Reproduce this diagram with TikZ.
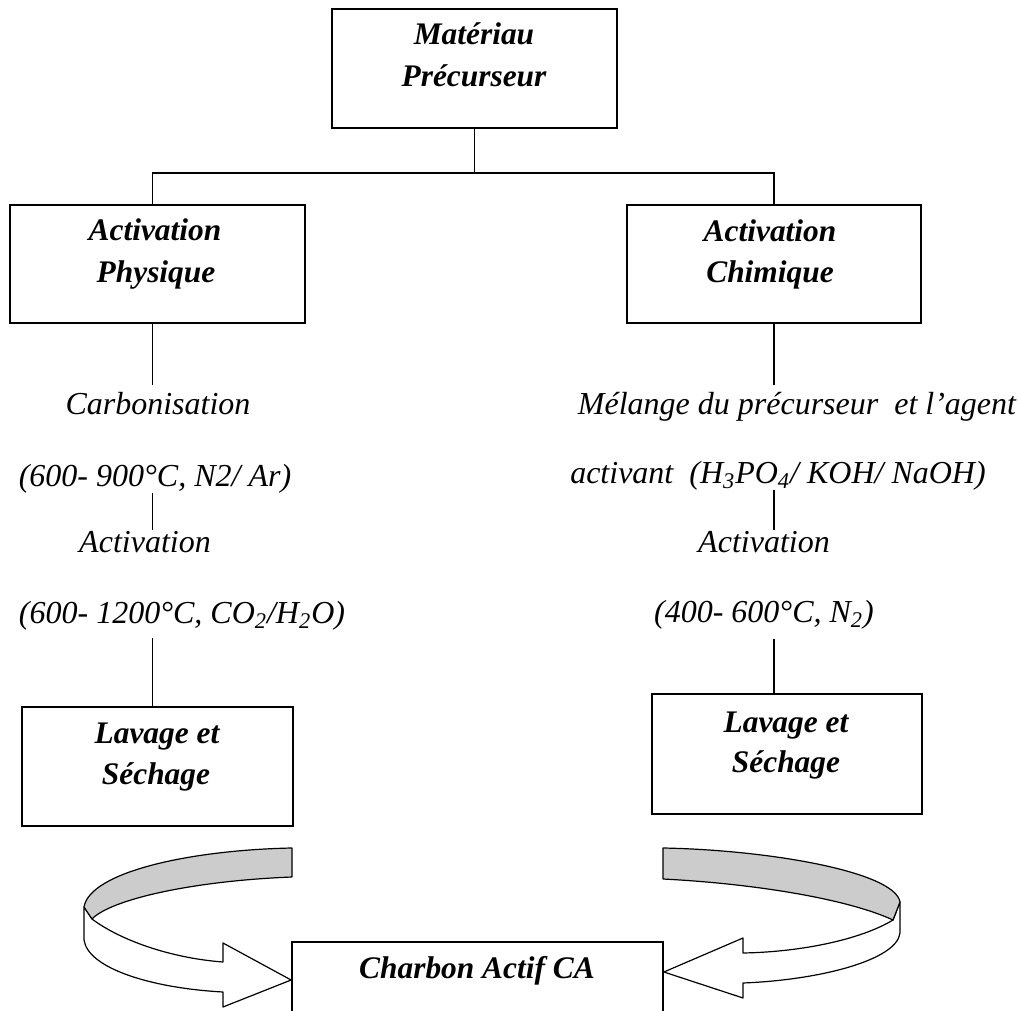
\documentclass[tikz,border=0pt]{standalone}
\usepackage{fontspec}
\setmainfont{Liberation Serif}
\begin{document}
\begin{tikzpicture}[x=0.5pt,y=-0.5pt,
  box/.style={draw=black, line width=0.9pt, inner sep=0pt},
  btxt/.style={font=\fontsize{15.7}{19}\selectfont\bfseries\itshape, inner sep=0pt, anchor=base},
  itxt/.style={font=\fontsize{16}{19}\selectfont\itshape, inner sep=0pt, anchor=base, text height=11pt, text depth=3.5pt},
  link/.style={line width=0.8pt},
  ribbon/.style={draw=black, line width=0.6pt, line join=round},
  backface/.style={ribbon, fill=black!20},
  frontface/.style={ribbon, fill=white},
]
\useasboundingbox (0,0) rectangle (1019,1011);
\clip (0,0) rectangle (1019,1011);
\fill[white] (0,0) rectangle (1019,1011);

% columns and junction level
\coordinate (colL) at (152.5,0);
\coordinate (colR) at (774,0);
\coordinate (jy) at (0,173);

% boxes
\node[box, minimum width=142.5pt, minimum height=59.5pt] (mp) at (474.5,68.5) {};
\node[box, minimum width=147.5pt, minimum height=59pt] (phys) at (157.5,264) {};
\node[box, minimum width=147pt, minimum height=59pt] (chim) at (774,264) {};
\node[box, minimum width=135.5pt, minimum height=59.5pt] (lav1) at (157.5,766.5) {};
\node[box, minimum width=135pt, minimum height=60pt] (lav2) at (787,754) {};

% box texts
\node[btxt] (mpa) at (474,45) {Matériau};
\node[btxt] (mpb) at (474,87) {Précurseur};
\node[btxt] (phya) at (155,241) {Activation};
\node[btxt] (phyb) at (156,283) {Physique};
\node[btxt] (chia) at (770,242) {Activation};
\node[btxt] (chib) at (770,283) {Chimique};
\node[btxt] (lava) at (157,743) {Lavage et};
\node[btxt] (lavb) at (156,784) {Séchage};
\node[btxt] (lavc) at (786,732) {Lavage et};
\node[btxt] (lavd) at (786,772) {Séchage};

% step texts, left
\node[itxt] (carb) at (158,415) {Carbonisation};
\node[itxt] (cond1) at (155,486) {(600- 900°C, N2/ Ar)};
\node[itxt] (act1) at (145,552) {Activation};
\node[itxt] (cond2) at (182,623) {(600- 1200°C, CO\textsubscript{2}/H\textsubscript{2}O)};
% step texts, right
\node[itxt] (mel) at (797,415) {Mélange du précurseur\ \ et l’agent};
\node[itxt] (agent) at (778,483) {activant\ \ (H\textsubscript{3}PO\textsubscript{4}/ KOH/ NaOH)};
\node[itxt] (act2) at (764,552) {Activation};
\node[itxt] (cond3) at (764,622) {(400- 600°C, N\textsubscript{2})};

% connectors
\draw[link] (mp.south) -- (mp.south |- jy);
\draw[link] (phys.north -| colL) -- (colL |- jy) -- (colR |- jy) -- (chim.north -| colR);
\draw[link, shorten >=4pt] (phys.south -| colL) -- (carb.north -| colL);
\draw[link] (cond1.south -| colL) -- (act1.north -| colL);
\draw[link, shorten <=4pt] (cond2.south -| colL) -- (lav1.north -| colL);
\draw[link, shorten >=4pt] (chim.south -| colR) -- (mel.north -| colR);
\draw[link] (agent.south -| colR) -- (act2.north -| colR);
\draw[link, shorten <=5pt] (cond3.south -| colR) -- (lav2.north -| colR);

% final box (cut by the page edge)
\node[box, minimum width=185.5pt, minimum height=59pt] (ca) at (477.5,1001) {};
\node[btxt] (cat) at (477,978) {Charbon Actif CA};

% left ribbon arrow
\draw[frontface] (92,919) .. controls (120,940) and (170,958) .. (223,962)
  -- (223,943) -- (ca.west |- 0,980) -- (223,1007) -- (223,992)
  .. controls (150,988) and (88,968) .. (84,940) -- (84,907) -- cycle;
\draw[backface] (292,848) .. controls (190,850) and (90,872) .. (84,907)
  -- (92,919) .. controls (110,900) and (190,881) .. (292,877) -- cycle;

% right ribbon arrow
\draw[frontface] (893,920) .. controls (860,940) and (800,952) .. (743,953)
  -- (743,938) -- (ca.east |- 0,972) -- (743,998) -- (743,983)
  .. controls (820,980) and (897,960) .. (900,933) -- (900,902) -- cycle;
\draw[backface] (663,848) .. controls (770,850) and (895,872) .. (900,902)
  -- (893,920) .. controls (850,900) and (760,884) .. (663,879) -- cycle;
\end{tikzpicture}
\end{document}
